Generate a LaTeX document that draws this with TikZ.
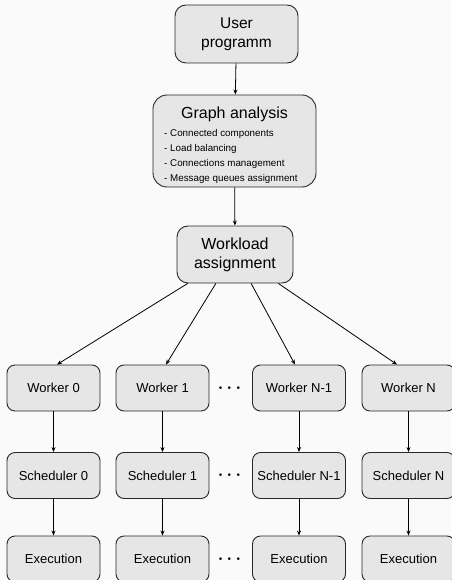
\documentclass[tikz,border=0pt]{standalone}
\usepackage{fontspec}
\setmainfont{Liberation Sans}
\usepackage{tikz}
\usetikzlibrary{arrows.meta,calc}
\definecolor{boxgray}{RGB}{230,230,230}
\definecolor{bggray}{RGB}{250,250,250}
\definecolor{edgegray}{RGB}{40,40,40}

\begin{document}
\begin{tikzpicture}[x=1pt, y=-1pt,
    box/.style={draw=edgegray, fill=boxgray, line width=0.9pt, rounded corners=8pt,
      minimum width=93pt, minimum height=46pt, inner sep=0pt,
      font=\fontsize{13}{15}\selectfont},
    bigbox/.style={box, rounded corners=11pt, align=center, font=\fontsize{16}{19}\selectfont},
    flow/.style={-{Stealth[length=5pt,width=4pt]}, line width=0.8pt},
    dotsnode/.style={font=\fontsize{17}{17}\selectfont\boldmath}]
        \useasboundingbox (0,0) rectangle (451,580);
        \fill[bggray] (0,0) rectangle (451,580);
        % top of the chain
        \node[bigbox, minimum width=123pt, minimum height=58pt, font=\fontsize{15.5}{19}\selectfont] (user) at (236.5,34) {User\\programm};
        \node[bigbox, minimum width=163pt, minimum height=92pt, rounded corners=14pt] (ga) at (234.5,141) {};
        \node[anchor=base, inner sep=0pt, font=\fontsize{16}{19}\selectfont] (gatitle) at (234.5,119) {Graph analysis};
        \node[anchor=base west, inner sep=0pt, align=left, font=\fontsize{9.8}{15.3}\selectfont] (galist) at (164,182)
          {- Connected components\\- Load balancing\\- Connections management\\- Message queues assignment};
        \node[bigbox, minimum width=116pt, minimum height=57pt] (wl) at (235,254.5) {Workload\\assignment};
        % workers, schedulers, executions
        \foreach \n/\x/\t in {0/53.5/0, 1/162.5/1, 2/299/N-1, 3/408.5/N} {
          \node[box] (w\n) at (\x,388) {Worker \t};
          \node[box] (s\n) at (\x,475.5) {Scheduler \t};
          \node[box] (e\n) at (\x,559) {Execution};
          \draw[flow] (w\n) -- (s\n);
          \draw[flow] (s\n) -- (e\n);
        }
        \node[dotsnode] (dotsw) at (229.5,388) {$\cdots$};
        \node[dotsnode] (dotss) at (229.5,475.5) {$\cdots$};
        \node[dotsnode] (dotse) at (229.5,559) {$\cdots$};
        \draw[flow] (user) -- (ga);
        \draw[flow] (ga) -- (wl);
        \foreach \n/\f/\dx in {0/0.095/3.5, 1/0.336/3.5, 2/0.638/-4, 3/0.871/-11.5}
          \draw[flow] ($(wl.south west)!\f!(wl.south east)$) -- ($(w\n.north)+(\dx,0)$);
      \end{tikzpicture}
\end{document}
